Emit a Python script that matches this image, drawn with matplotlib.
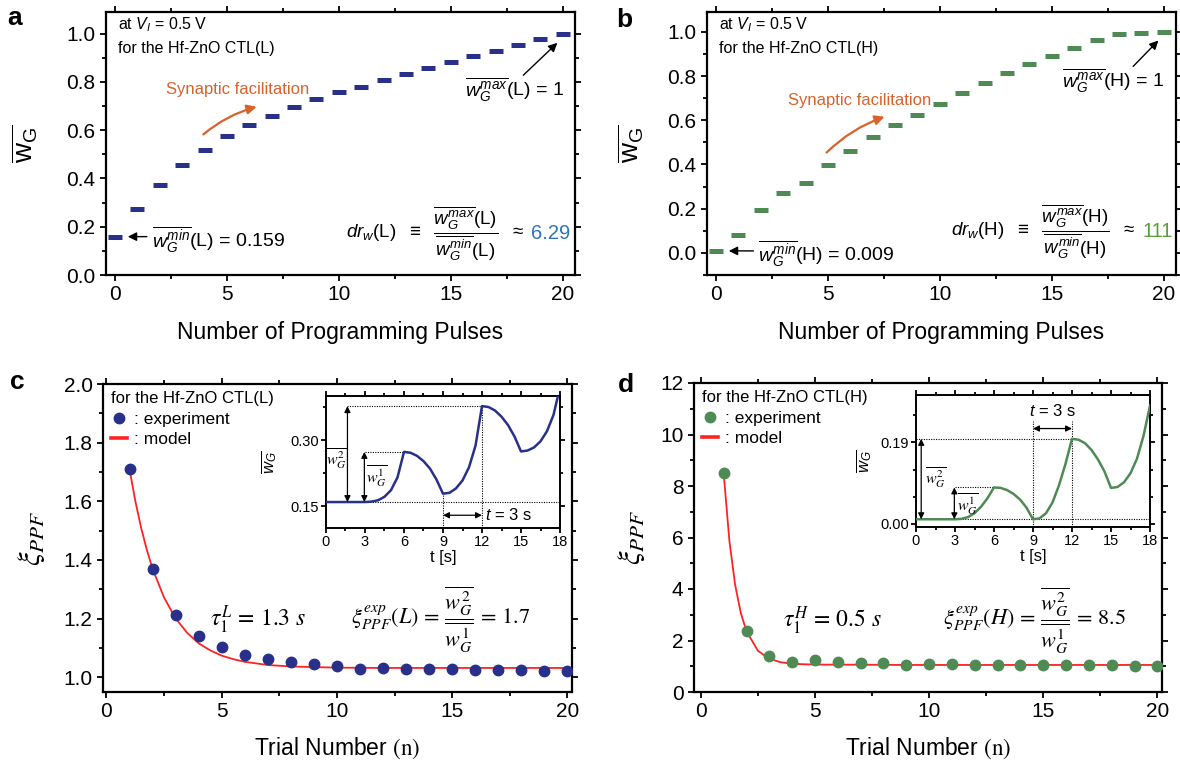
import matplotlib
matplotlib.use('Agg')
import matplotlib.pyplot as plt
from matplotlib.ticker import MultipleLocator
from matplotlib.lines import Line2D

plt.rcParams['font.family'] = ['Liberation Sans Narrow', 'Liberation Sans', 'DejaVu Sans']
plt.rcParams['mathtext.fontset'] = 'custom'
plt.rcParams['mathtext.rm'] = 'Liberation Sans'
plt.rcParams['mathtext.it'] = 'Liberation Sans:italic'
plt.rcParams['mathtext.bf'] = 'Liberation Sans:bold'
plt.rcParams['axes.linewidth'] = 1.6

# ---- data ----
pulses = list(range(21))
wg_L = [0.159, 0.272, 0.374, 0.455, 0.520, 0.575, 0.620, 0.660, 0.696, 0.729, 0.758,
        0.780, 0.807, 0.834, 0.858, 0.883, 0.906, 0.930, 0.953, 0.977, 1.0]
wg_H = [0.009, 0.081, 0.195, 0.272, 0.316, 0.398, 0.462, 0.525, 0.580, 0.624, 0.675,
        0.725, 0.770, 0.812, 0.856, 0.892, 0.928, 0.962, 0.989, 0.994, 1.0]

trials = list(range(1, 21))
ppf_L = [1.711, 1.369, 1.213, 1.141, 1.102, 1.077, 1.063, 1.051, 1.044, 1.040,
         1.027, 1.033, 1.030, 1.028, 1.027, 1.026, 1.025, 1.024, 1.023, 1.020]
ppf_H = [8.49, 2.36, 1.38, 1.15, 1.26, 1.15, 1.12, 1.11, 1.05, 1.07,
         1.07, 1.05, 1.05, 1.04, 1.04, 1.04, 1.04, 1.03, 1.00, 1.00]

model_n = [1, 1.25, 1.5, 1.75, 2, 2.5, 3, 3.5, 4, 4.5, 5, 5.5, 6, 7, 8, 9, 10, 12, 15, 20]
model_L = [1.710, 1.602, 1.511, 1.435, 1.370, 1.272, 1.201, 1.152, 1.116, 1.092, 1.074,
           1.062, 1.053, 1.042, 1.037, 1.035, 1.033, 1.032, 1.032, 1.032]
model_H = [8.49, 5.87, 4.17, 3.07, 2.36, 1.60, 1.29, 1.155, 1.10, 1.077, 1.067,
           1.063, 1.062, 1.06, 1.055, 1.05, 1.05, 1.05, 1.05, 1.05]

t_inset = [0, 3, 3.5, 4, 4.5, 5, 5.5, 6, 6.5, 7, 7.5, 8, 8.5, 9, 9.5, 10, 10.5, 11,
           11.5, 12, 12.5, 13, 13.5, 14, 14.5, 15, 15.5, 16, 16.5, 17, 17.5, 18]
inset_L = [0.159, 0.159, 0.160, 0.163, 0.171, 0.186, 0.215, 0.273, 0.271, 0.264, 0.252,
           0.235, 0.210, 0.178, 0.180, 0.190, 0.208, 0.238, 0.287, 0.377, 0.375, 0.367,
           0.353, 0.334, 0.308, 0.274, 0.276, 0.283, 0.297, 0.320, 0.357, 0.42]
inset_H = [0.011, 0.011, 0.012, 0.016, 0.025, 0.040, 0.060, 0.085, 0.084, 0.079, 0.070,
           0.057, 0.038, 0.011, 0.013, 0.025, 0.050, 0.090, 0.140, 0.198, 0.196, 0.188,
           0.172, 0.150, 0.122, 0.084, 0.086, 0.097, 0.118, 0.152, 0.205, 0.275]

NAVY = '#28308a'
GREEN = '#4f8a55'
ORANGE = '#d9622b'
BLUE_TXT = '#2e75b6'
GREEN_TXT = '#5a9e3a'
RED = '#ff2222'

W, H = 1180, 768
fig = plt.figure(figsize=(W / 100, H / 100), dpi=100)
fig.patch.set_facecolor('white')


def px_axes(left, right, top, bottom):
    return fig.add_axes([left / W, 1 - bottom / H, (right - left) / W, (bottom - top) / H])


def style(ax, size=15, major=4.5, minor=2.8):
    ax.tick_params(which='both', direction='out', top=True, right=True,
                   labelsize=size, width=1.3, pad=3)
    ax.tick_params(which='major', length=major)
    ax.tick_params(which='minor', length=minor)


SERIF = 'stix'


# ---------- panel a / b ----------
def pulse_panel(ax, vals, color, tag, ratio, ratio_color, ylow, p):
    ax.plot(pulses, vals, ls='none', marker='_', ms=9.5, mew=3.6, color=color)
    ax.set_xlim(-0.4, 20.55)
    ax.set_ylim(ylow, 1.09)
    ax.xaxis.set_major_locator(MultipleLocator(5))
    ax.xaxis.set_minor_locator(MultipleLocator(2.5))
    ax.yaxis.set_major_locator(MultipleLocator(0.2))
    ax.yaxis.set_minor_locator(MultipleLocator(0.1))
    ax.yaxis.set_major_formatter(plt.FormatStrFormatter('%.1f'))
    style(ax)
    ax.set_xlabel('Number of Programming Pulses', fontsize=16.5, labelpad=12)
    ax.set_ylabel(r'$\overline{\mathrm{w}_\mathrm{G}}$', fontsize=20)
    ax.text(0.025, 0.95, r'at $V_I$ = 0.5 V', transform=ax.transAxes, fontsize=11.5, va='center')
    ax.text(0.025, 0.86, 'for the Hf-ZnO CTL(%s)' % tag, transform=ax.transAxes,
            fontsize=11.5, va='center')
    ax.text(p['syn'][0], p['syn'][1], 'Synaptic facilitation', color=ORANGE,
            fontsize=12, va='center')
    ax.annotate('', xy=p['syn_head'], xytext=p['syn_tail'],
                arrowprops=dict(arrowstyle='-|>', color=ORANGE, lw=1.6,
                                mutation_scale=14, connectionstyle='arc3,rad=-0.12'))
    # max
    ax.annotate('', xy=(pulses[-1] - 0.15, vals[-1] - 0.03), xytext=p['max_tail'],
                arrowprops=dict(arrowstyle='-|>', color='black', lw=1.0, mutation_scale=13))
    ax.text(20.05, p['max_y'], r'$\overline{w_G^{max}}$(%s) = 1' % tag, fontsize=14,
            ha='right', va='center')
    # min
    ax.annotate('', xy=(pulses[0] + 0.45, vals[0]), xytext=(p['min_x'] - 0.1, vals[0]),
                arrowprops=dict(arrowstyle='-|>', color='black', lw=1.0, mutation_scale=13))
    ax.text(p['min_x'], vals[0] - 0.012,
            r'$\overline{w_G^{min}}$(%s) = %s' % (tag, ('%.3f' % vals[0])),
            fontsize=14, va='center')
    # dynamic range
    ax.text(p['dr_x'], p['dr_y'],
            r'$dr_w$(%s)  $\equiv$  $\dfrac{\overline{w_G^{max}}\mathrm{(%s)}}{\overline{w_G^{min}}\mathrm{(%s)}}$  $\approx$'
            % (tag, tag, tag), fontsize=13.5, ha='right', va='center')
    ax.text(p['dr_x'] + 0.35, p['dr_y'], ratio, color=ratio_color, fontsize=14.5, va='center')


ax_a = px_axes(106, 575, 12, 275)
pulse_panel(ax_a, wg_L, NAVY, 'L', '6.29', BLUE_TXT, 0.0,
            dict(syn=(2.27, 0.77), syn_head=(6.45, 0.70), syn_tail=(3.85, 0.575),
                 max_tail=(18.15, 0.82), max_y=0.77, min_x=1.65,
                 dr_x=18.25, dr_y=0.17))
ax_b = px_axes(707, 1176, 12, 275)
pulse_panel(ax_b, wg_H, GREEN, 'H', '111', GREEN_TXT, -0.1,
            dict(syn=(3.2, 0.69), syn_head=(7.65, 0.62), syn_tail=(4.85, 0.445),
                 max_tail=(18.55, 0.835), max_y=0.78, min_x=1.9,
                 dr_x=18.7, dr_y=0.095))
ax_a.yaxis.set_label_coords(-0.14, 0.5)
ax_b.yaxis.set_label_coords(-0.13, 0.5)


# ---------- panel c / d ----------
def ppf_panel(ax, vals, model, color, tag):
    ax.plot(model_n, model, color=RED, lw=1.3, zorder=2)
    ax.plot(trials, vals, ls='none', marker='o', ms=7.5, color=color, zorder=3)
    style(ax)
    ax.set_xlabel(r'Trial Number $(\mathrm{n})$', fontsize=16.5, labelpad=10,
                  math_fontfamily=SERIF)
    ax.set_ylabel(r'$\xi_{PPF}$', fontsize=22, math_fontfamily=SERIF)
    ax.xaxis.set_major_locator(MultipleLocator(5))
    ax.xaxis.set_minor_locator(MultipleLocator(2.5))
    handles = [Line2D([], [], ls='none', marker='o', ms=7.5, color=color),
               Line2D([], [], color=RED, lw=2.6)]
    ax.legend(handles, [': experiment', ': model'], title='for the Hf-ZnO CTL(%s)' % tag,
              loc='upper left', bbox_to_anchor=(-0.005, 1.01), frameon=False,
              fontsize=12.5, title_fontsize=12, handlelength=0.9, handletextpad=0.4,
              labelspacing=0.3, alignment='left', borderaxespad=0.2)


ax_c = px_axes(103, 572, 384, 692)
ppf_panel(ax_c, ppf_L, model_L, NAVY, 'L')
ax_c.set_xlim(-0.15, 20.2)
ax_c.set_ylim(0.95, 2.0)
ax_c.yaxis.set_major_locator(MultipleLocator(0.2))
ax_c.yaxis.set_minor_locator(MultipleLocator(0.1))
ax_c.yaxis.set_major_formatter(plt.FormatStrFormatter('%.1f'))
ax_c.yaxis.set_label_coords(-0.12, 0.5)
ax_c.text(4.5, 1.195, r'$\tau_1^L\,=\,1.3\ s$', fontsize=17, va='center', math_fontfamily=SERIF)
ax_c.text(10.6, 1.195,
          r'$\xi_{PPF}^{exp}(L)\,=\,\dfrac{\overline{w_G^2}}{\overline{w_G^1}}\,=\,1.7$',
          fontsize=16, va='center', math_fontfamily=SERIF)

ax_d = px_axes(694, 1162, 383, 692)
ppf_panel(ax_d, ppf_H, model_H, GREEN, 'H')
ax_d.set_xlim(-0.3, 20.2)
ax_d.set_ylim(0, 12)
ax_d.yaxis.set_major_locator(MultipleLocator(2))
ax_d.yaxis.set_minor_locator(MultipleLocator(1))
ax_d.yaxis.set_label_coords(-0.10, 0.5)
ax_d.text(3.6, 2.76, r'$\tau_1^H\,=\,0.5\ s$', fontsize=17, va='center', math_fontfamily=SERIF)
ax_d.text(10.6, 2.76,
          r'$\xi_{PPF}^{exp}(H)\,=\,\dfrac{\overline{w_G^2}}{\overline{w_G^1}}\,=\,8.5$',
          fontsize=16, va='center', math_fontfamily=SERIF)


# ---------- insets ----------
def dbl_arrow(ax, p0, p1):
    ax.annotate('', xy=p1, xytext=p0,
                arrowprops=dict(arrowstyle='<|-|>', color='black', lw=0.9,
                                mutation_scale=9, shrinkA=0, shrinkB=0))


def inset(ax, vals, color):
    ax.plot(t_inset, vals, color=color, lw=1.8, zorder=3)
    ax.set_xlim(0, 18)
    ax.xaxis.set_major_locator(MultipleLocator(3))
    ax.xaxis.set_minor_locator(MultipleLocator(1.5))
    style(ax, size=10.5, major=3.5, minor=2)
    ax.tick_params(pad=1.5)
    for s in ax.spines.values():
        s.set_linewidth(1.4)
    ax.set_xlabel('t [s]', fontsize=12, labelpad=1)
    ax.set_ylabel(r'$\overline{w_G}$', fontsize=12)


dot = dict(color='black', ls=(0, (1, 1.2)), lw=0.8, zorder=2)

ins_c = px_axes(326, 560, 396, 528)
inset(ins_c, inset_L, NAVY)
ins_c.set_ylim(0.10, 0.40)
ins_c.set_yticks([0.15, 0.30])
ins_c.yaxis.set_minor_locator(MultipleLocator(0.075))
ins_c.yaxis.set_major_formatter(plt.FormatStrFormatter('%.2f'))
ins_c.yaxis.set_label_coords(-0.2, 0.5)
base_c, p1_c, tr_c, p2_c = inset_L[0], inset_L[7], inset_L[13], inset_L[19]
ins_c.hlines(base_c, 3, 18, **dot)
ins_c.hlines(p1_c, 3, 6, **dot)
ins_c.hlines(p2_c, 1.65, 12, **dot)
ins_c.vlines(9, 0.10, tr_c, **dot)
ins_c.vlines(12, 0.10, p2_c, **dot)
dbl_arrow(ins_c, (1.65, base_c), (1.65, p2_c))
dbl_arrow(ins_c, (2.95, base_c), (2.95, p1_c))
dbl_arrow(ins_c, (9, 0.129), (12, 0.129))
ins_c.text(12.25, 0.129, r'$t$ = 3 s', fontsize=12, va='center')
ins_c.text(0.8, 0.258, r'$\overline{w_G^2}$', fontsize=11.5, ha='center', va='center',
           math_fontfamily=SERIF)
ins_c.text(3.9, 0.217, r'$\overline{w_G^1}$', fontsize=11.5, ha='center', va='center',
           math_fontfamily=SERIF)

ins_d = px_axes(916, 1150, 395, 527)
inset(ins_d, inset_H, GREEN)
ins_d.set_ylim(-0.007, 0.30)
ins_d.set_yticks([0.0, 0.19])
ins_d.yaxis.set_minor_locator(MultipleLocator(0.19 / 3))
ins_d.yaxis.set_major_formatter(plt.FormatStrFormatter('%.2f'))
ins_d.yaxis.set_label_coords(-0.18, 0.5)
base_d, p1_d, tr_d, p2_d = inset_H[0], inset_H[7], inset_H[13], inset_H[19]
ins_d.hlines(base_d, 3, 18, **dot)
ins_d.hlines(p1_d, 3, 6, **dot)
ins_d.hlines(p2_d, 0, 12, **dot)
ins_d.vlines(9, -0.007, 0.24, **dot)
ins_d.vlines(12, -0.007, 0.24, **dot)
dbl_arrow(ins_d, (0.4, base_d), (0.4, p2_d))
dbl_arrow(ins_d, (2.95, base_d), (2.95, p1_d))
dbl_arrow(ins_d, (9, 0.222), (12, 0.222))
ins_d.text(10.5, 0.262, r'$t$ = 3 s', fontsize=12, ha='center', va='center')
ins_d.text(1.55, 0.108, r'$\overline{w_G^2}$', fontsize=11.5, ha='center', va='center',
           math_fontfamily=SERIF)
ins_d.text(4.0, 0.046, r'$\overline{w_G^1}$', fontsize=11.5, ha='center', va='center',
           math_fontfamily=SERIF)

# panel letters
for letter, x, y in [('a', 15, 18), ('b', 624, 20), ('c', 17, 382), ('d', 626, 385)]:
    fig.text(x / W, 1 - y / H, letter, fontsize=19, fontweight='bold',
             family=['Liberation Sans', 'DejaVu Sans'], ha='center', va='center')

fig.savefig('out.png', dpi=100, facecolor='white')
